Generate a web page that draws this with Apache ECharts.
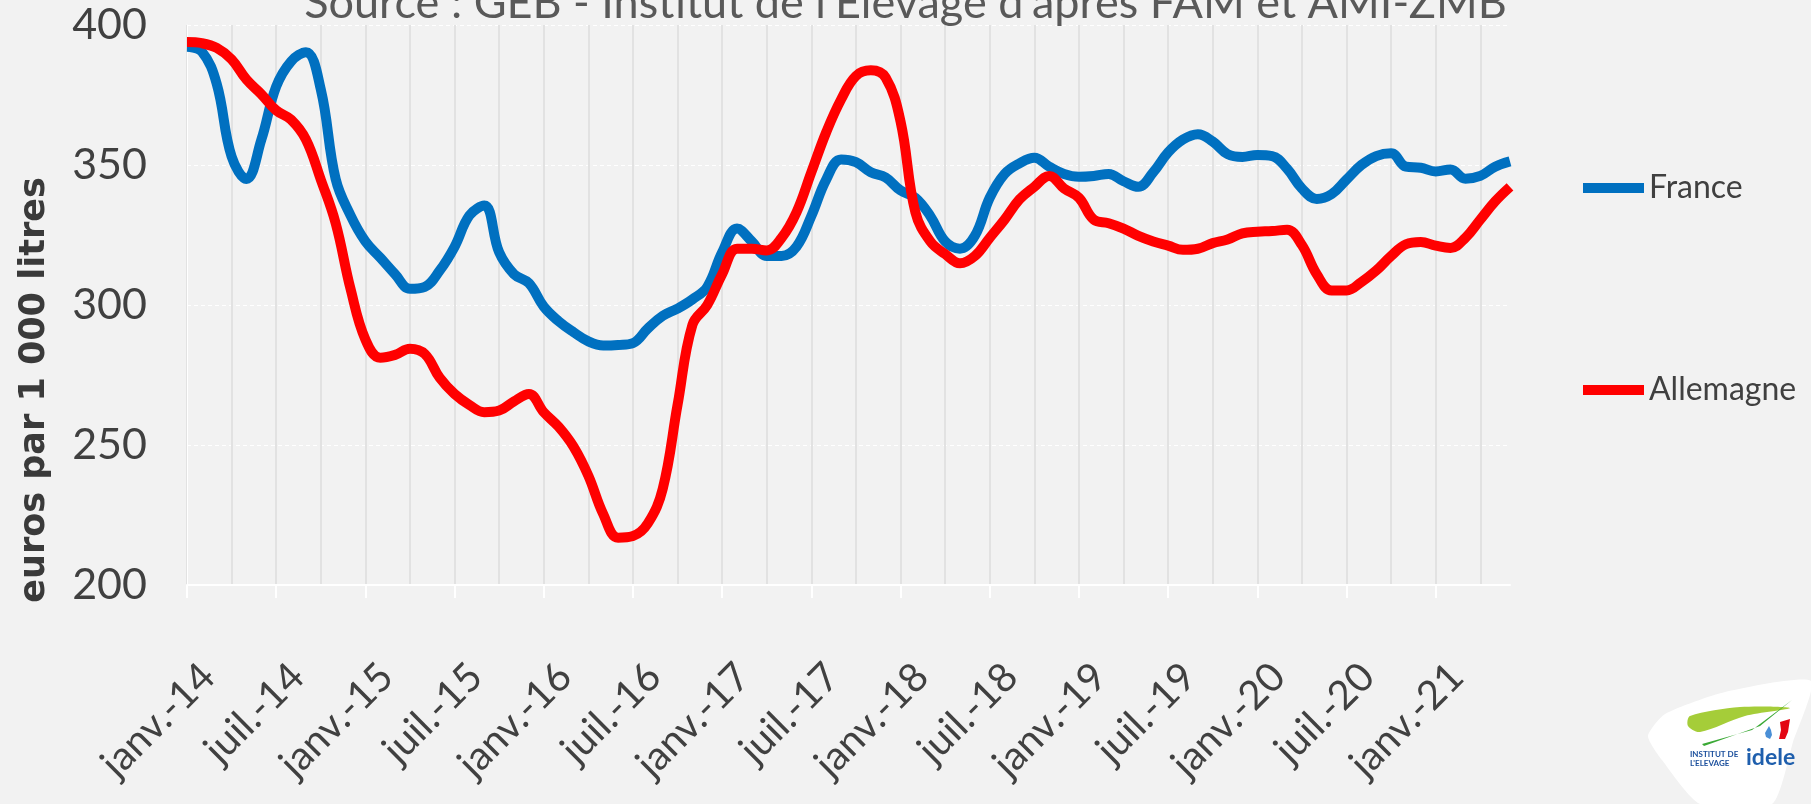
<!DOCTYPE html>
<html>
<head>
<meta charset="utf-8">
<script src="https://cdn.jsdelivr.net/npm/echarts@6/dist/echarts.min.js"></script>
<style>
  html, body { margin: 0; padding: 0; background: #f2f2f2; }
  #chart { width: 1811px; height: 804px; }
</style>
</head>
<body>
<div id="chart"></div>
<script>
// month labels, janv.-14 .. juin-21
const monthNames = ['janv.', 'févr.', 'mars', 'avr.', 'mai', 'juin', 'juil.', 'août', 'sept.', 'oct.', 'nov.', 'déc.'];
const years = ['14', '15', '16', '17', '18', '19', '20', '21'];
const lastMonthIndex = 89;

// euros par 1 000 litres
const france = [
    392.2, 390.5, 379, 353, 345, 359, 378, 387, 390.3, 377,
    345, 332, 322.7, 316.9, 311, 305.8, 306.5, 312.3, 320.8, 332,
    335.5, 318.8, 311, 307.8, 299.4, 294.2, 290.3, 287, 285.5, 285.7,
    286.4, 291.6, 296.1, 298.7, 302, 306.5, 318.8, 327.3, 322.7, 317.5,
    317.5, 320.8, 331.8, 344.8, 352, 351, 347.4, 345.5, 340.9, 338.3,
    331.8, 322.7, 320.1, 324.7, 338.3, 346.8, 350.6, 352.6, 349.4, 346.8,
    345.8, 346.1, 346.8, 344.2, 342.2, 347.4, 354.5, 359.1, 361, 358.4,
    353.9, 352.9, 353.6, 353.2, 348.7, 341.6, 337.9, 339.6, 344.8, 350,
    353.2, 354.2, 349.4, 349, 347.7, 348.4, 345.1, 346.1, 349.4, 351.3
];
const allemagne = [
    393.9, 393.5, 391.8, 387.7, 380.5, 375.3, 369.5, 366.2, 359.1, 344.8,
    329.2, 305.8, 287.7, 281.2, 282.2, 284.4, 282.5, 274, 268.2, 264.3,
    261.7, 262.3, 265.6, 268.2, 261.7, 256.5, 249.4, 239, 225.3, 216.9,
    217.5, 222, 234.3, 264.3, 292.9, 300, 311, 320.1, 320.1, 319.5,
    324, 333.1, 347.4, 361.7, 373.4, 381.8, 383.8, 381.2, 365.6, 333.1,
    322.7, 318.2, 314.9, 317.5, 324, 330.5, 337.7, 342.2, 346.1, 341.6,
    338.3, 330.5, 329.2, 327.3, 324.7, 322.7, 321.2, 319.7, 320.1, 322.1,
    323.4, 325.6, 326.2, 326.4, 326.9, 321.4, 311, 305.2, 305.2, 308.2,
    312.3, 317.5, 321.7, 322.5, 321.2, 320.4, 324, 330.5, 337, 342.2
];
const yTicks = [200, 250, 300, 350, 400];

let categories = [];
years.forEach(function (y) {
    monthNames.forEach(function (m) {
        if (categories.length <= lastMonthIndex) {
            categories.push(m + '-' + y);
        }
    });
});

const textColor = '#404040';
const font = 'Lato';

let myChart = echarts.init(document.getElementById('chart'));
myChart.setOption({
    backgroundColor: '#f2f2f2',
    animation: false,
    title: {
        text: "Source : GEB - Institut de l'Elevage d'après FAM et AMI-ZMB",
        left: 'center',
        top: -19,
        padding: 0,
        textStyle: { fontFamily: font, fontSize: 45, fontWeight: 'normal', color: '#595959' }
    },
    legend: {
        orient: 'vertical',
        left: 1583,
        top: 172,
        padding: 0,
        itemGap: 170,
        itemWidth: 61,
        itemHeight: 10,
        icon: 'rect',
        textStyle: { fontFamily: font, fontSize: 32, color: textColor },
        data: ['France', 'Allemagne']
    },
    grid: { left: 187, right: 301, top: 25, bottom: 219 },
    xAxis: {
        type: 'category',
        boundaryGap: false,
        data: categories,
        axisLine: { lineStyle: { color: '#ffffff', width: 2 } },
        axisTick: { interval: 5, length: 13, lineStyle: { color: '#ffffff', width: 2 } },
        axisLabel: {
            interval: 5,
            rotate: 45,
            margin: 64,
            verticalAlign: 'top',
            padding: [10, 0, 0, 0],
            fontFamily: font,
            fontSize: 40,
            color: textColor
        },
        splitLine: { show: true, interval: 2, lineStyle: { color: '#e2e2e2', width: 2 } }
    },
    yAxis: {
        type: 'value',
        min: yTicks[0],
        max: yTicks[yTicks.length - 1],
        interval: 50,
        axisLine: { show: true, lineStyle: { color: '#ffffff', width: 1 } },
        axisTick: { show: false },
        axisLabel: { margin: 40, fontFamily: font, fontSize: 43, color: textColor },
        splitLine: { lineStyle: { color: '#ffffff', width: 1, type: [4, 3] } }
    },
    series: [
        {
            name: 'France',
            type: 'line',
            data: france,
            smooth: 0.4,
            showSymbol: false,
            color: '#0070c0',
            lineStyle: { width: 10, color: '#0070c0' }
        },
        {
            name: 'Allemagne',
            type: 'line',
            data: allemagne,
            smooth: 0.4,
            showSymbol: false,
            color: '#ff0000',
            lineStyle: { width: 10, color: '#ff0000' }
        }
    ],
    graphic: [
        {
            type: 'text',
            x: 35,
            y: 390,
            rotation: Math.PI / 2,
            style: {
                text: 'euros par 1 000 litres',
                fontFamily: 'DejaVu Sans',
                fontWeight: 'bold',
                fontSize: 35,
                fill: '#3a3a3a',
                align: 'center',
                verticalAlign: 'middle'
            }
        },
        // idele logo, bottom right
        {
            type: 'polygon',
            shape: { points: [[1811, 681], [1725, 692], [1665, 714], [1648, 736], [1662, 760], [1700, 804], [1772, 804], [1793, 742]], smooth: 0.2 },
            style: { fill: '#ffffff' }
        },
        {
            type: 'polygon',
            shape: { points: [[1690, 716], [1740, 707], [1790, 708], [1745, 716], [1700, 732], [1688, 726]], smooth: 0.3 },
            style: { fill: '#a5cd39' }
        },
        {
            type: 'polygon',
            shape: { points: [[1702, 744], [1752, 730], [1792, 700], [1760, 726], [1704, 746]] },
            style: { fill: '#3aa935' }
        },
        {
            type: 'polygon',
            shape: { points: [[1780, 722], [1790, 719], [1788, 732], [1785, 739], [1779, 739], [1781, 730]] },
            style: { fill: '#e30613' }
        },
        {
            type: 'polygon',
            shape: { points: [[1769, 726], [1765, 733], [1766, 737], [1770, 739], [1772, 735], [1771, 730]] },
            style: { fill: '#4a8fd6' }
        },
        {
            type: 'text',
            x: 1690,
            y: 750,
            style: { text: 'INSTITUT DE', fontFamily: font, fontWeight: 'bold', fontSize: 8, fill: '#1b4f9c' }
        },
        {
            type: 'text',
            x: 1690,
            y: 759,
            style: { text: "L'ELEVAGE", fontFamily: font, fontWeight: 'bold', fontSize: 8, fill: '#1b4f9c' }
        },
        {
            type: 'text',
            x: 1746,
            y: 746,
            style: { text: 'idele', fontFamily: font, fontWeight: 'bold', fontSize: 23, fill: '#1f5fad' }
        }
    ]
});
window.addEventListener('resize', () => {
    myChart.resize();
});
</script>
</body>
</html>
